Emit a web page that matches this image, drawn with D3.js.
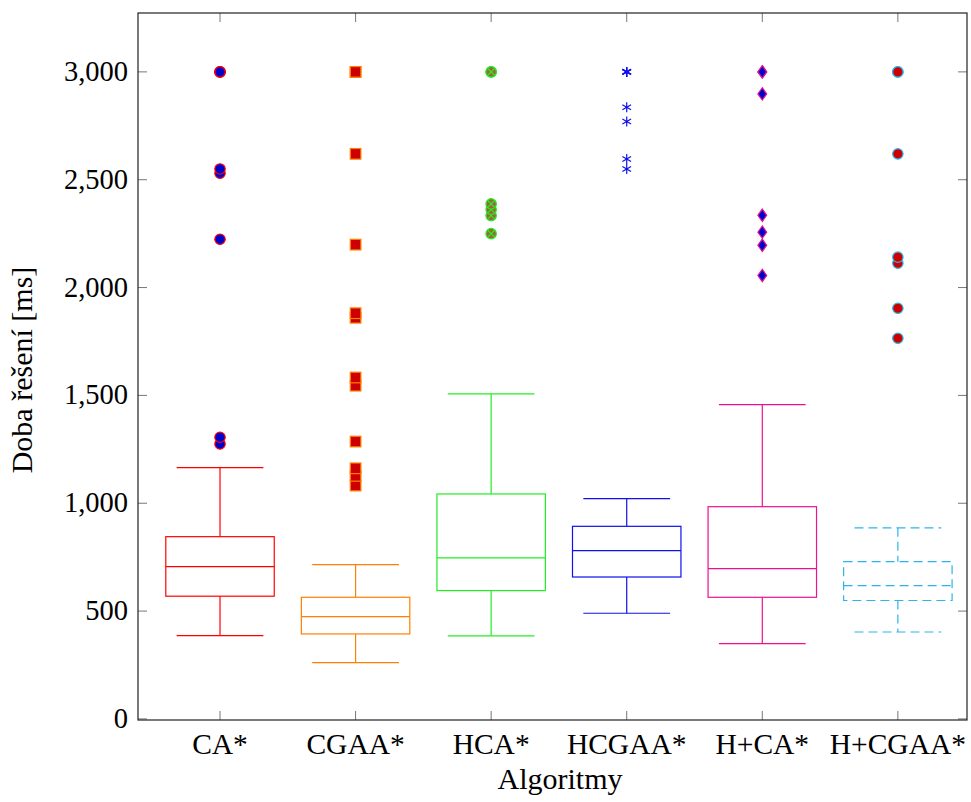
<!DOCTYPE html>
<html>
<head>
<meta charset="utf-8">
<script src="https://cdn.jsdelivr.net/npm/d3@7"></script>
<style>
  body { margin: 0; background: #fff; }
  text { font-family: "Liberation Serif", "DejaVu Serif", serif; fill: #000; }
</style>
</head>
<body>
<div id="chart"></div>
<script>
// DATA
// Algorithm names on the x axis
var algorithms = ["CA*", "CGAA*", "HCA*", "HCGAA*", "H+CA*", "H+CGAA*"];

// Box statistics per algorithm (ms)
var lowerWhiskers = [386, 261, 385, 490, 349, 403],
    lowerQuartiles = [569, 394, 595, 658, 564, 549],
    medians = [706, 474, 747, 780, 697, 618],
    upperQuartiles = [845, 564, 1043, 893, 984, 729],
    upperWhiskers = [1165, 715, 1507, 1021, 1457, 886];

// Outliers per algorithm (ms)
var outliersCA = [3000, 3000, 3000, 2550, 2530, 2224, 1306, 1275],
    outliersCGAA = [3000, 3000, 2620, 2199, 1881, 1860, 1583, 1545, 1286, 1162, 1127, 1082],
    outliersHCA = [3000, 3000, 2388, 2362, 2334, 2250],
    outliersHCGAA = [3000, 3000, 3000, 2836, 2770, 2596, 2550],
    outliersHPCA = [3000, 3000, 2898, 2335, 2257, 2196, 2056],
    outliersHPCGAA = [3000, 3000, 2620, 2141, 2113, 1904, 1765];

var outlierLists = [outliersCA, outliersCGAA, outliersHCA, outliersHCGAA, outliersHPCA, outliersHPCGAA];

// Y axis ticks
var yTicks = [0, 500, 1000, 1500, 2000, 2500, 3000];

// STYLES
var lineColors = ["#ff0000", "#ff8000", "#22ee22", "#1010ee", "#ee1090", "#2cb5ea"],
    markerFills = ["#0000cc", "#cc0000", "#a5623a", "#1010ee", "#0000cc", "#cc0000"],
    markerShapes = ["circle", "square", "otimes", "asterisk", "diamond", "circle"];

var width = 971,
    height = 802,
    plotLeft = 138,
    plotRight = 967,
    plotTop = 13,
    plotBottom = 720;

var serif = "'Liberation Serif', 'DejaVu Serif', serif";

var svg = d3.select("#chart").append("svg")
    .attr("width", width)
    .attr("height", height);

var x = d3.scaleLinear()
    .domain([0.395, 6.51])
    .range([plotLeft, plotRight]);

var y = d3.scaleLinear()
    .domain([-5, 3273])
    .range([plotBottom, plotTop]);

var unit = x(2) - x(1);

// ticks (inside, on all four sides)
var tickG = svg.append("g");
yTicks.forEach(function(t) {
    tickG.append("line")
        .attr("x1", plotLeft).attr("x2", plotLeft + 9)
        .attr("y1", y(t)).attr("y2", y(t))
        .attr("stroke", "#777").attr("stroke-width", 1);
    tickG.append("line")
        .attr("x1", plotRight).attr("x2", plotRight - 9)
        .attr("y1", y(t)).attr("y2", y(t))
        .attr("stroke", "#777").attr("stroke-width", 1);
    svg.append("text")
        .attr("x", plotLeft - 10)
        .attr("y", y(t) + 9)
        .attr("text-anchor", "end")
        .style("font-family", serif)
        .style("font-size", "28.5px")
        .text(d3.format(",")(t));
});
algorithms.forEach(function(a, i) {
    tickG.append("line")
        .attr("x1", x(i + 1)).attr("x2", x(i + 1))
        .attr("y1", plotBottom).attr("y2", plotBottom - 9)
        .attr("stroke", "#777").attr("stroke-width", 1);
    tickG.append("line")
        .attr("x1", x(i + 1)).attr("x2", x(i + 1))
        .attr("y1", plotTop).attr("y2", plotTop + 9)
        .attr("stroke", "#777").attr("stroke-width", 1);
    svg.append("text")
        .attr("x", x(i + 1))
        .attr("y", 754)
        .attr("text-anchor", "middle")
        .style("font-family", serif)
        .style("font-size", "29.5px")
        .text(a);
});

// Boxes
algorithms.forEach(function(a, i) {
    var cx = x(i + 1),
        col = lineColors[i],
        dash = i === 5 ? "9,5" : null;
    var g = svg.append("g")
        .attr("fill", "none")
        .attr("stroke", col)
        .attr("stroke-width", 1.2)
        .attr("stroke-dasharray", dash);

    // whiskers
    g.append("line")
        .attr("x1", cx).attr("x2", cx)
        .attr("y1", y(upperWhiskers[i])).attr("y2", y(upperQuartiles[i]));
    g.append("line")
        .attr("x1", cx).attr("x2", cx)
        .attr("y1", y(lowerQuartiles[i])).attr("y2", y(lowerWhiskers[i]));
    [upperWhiskers[i], lowerWhiskers[i]].forEach(function(w) {
        g.append("line")
            .attr("x1", cx - 0.32 * unit).attr("x2", cx + 0.32 * unit)
            .attr("y1", y(w)).attr("y2", y(w));
    });

    // box + median
    g.append("rect")
        .attr("x", cx - 0.4 * unit)
        .attr("width", 0.8 * unit)
        .attr("y", y(upperQuartiles[i]))
        .attr("height", y(lowerQuartiles[i]) - y(upperQuartiles[i]));
    g.append("line")
        .attr("x1", cx - 0.4 * unit).attr("x2", cx + 0.4 * unit)
        .attr("y1", y(medians[i])).attr("y2", y(medians[i]));
});

// Outlier markers
function drawMarker(g, shape, cx, cy, fill, stroke) {
    switch (shape) {
        case "circle":
            g.append("circle")
                .attr("cx", cx).attr("cy", cy).attr("r", 5.2)
                .attr("fill", fill).attr("stroke", stroke).attr("stroke-width", 1.2);
            break;
        case "square":
            g.append("rect")
                .attr("x", cx - 5.3).attr("y", cy - 5.3)
                .attr("width", 10.6).attr("height", 10.6)
                .attr("fill", fill).attr("stroke", stroke).attr("stroke-width", 1.2);
            break;
        case "otimes":
            g.append("circle")
                .attr("cx", cx).attr("cy", cy).attr("r", 5.2)
                .attr("fill", fill).attr("stroke", stroke).attr("stroke-width", 1.2);
            g.append("path")
                .attr("d", "M" + (cx - 3.6) + "," + (cy - 3.6) + "L" + (cx + 3.6) + "," + (cy + 3.6) +
                           "M" + (cx - 3.6) + "," + (cy + 3.6) + "L" + (cx + 3.6) + "," + (cy - 3.6))
                .attr("stroke", stroke).attr("stroke-width", 1.2);
            break;
        case "asterisk":
            var p = "";
            [90, 30, -30].forEach(function(deg) {
                var r = deg * Math.PI / 180,
                    dx = 5 * Math.cos(r),
                    dy = 5 * Math.sin(r);
                p += "M" + (cx - dx) + "," + (cy - dy) + "L" + (cx + dx) + "," + (cy + dy);
            });
            g.append("path")
                .attr("d", p)
                .attr("stroke", stroke).attr("stroke-width", 1.2).attr("fill", "none");
            break;
        case "diamond":
            g.append("path")
                .attr("d", "M" + cx + "," + (cy - 6.2) + "L" + (cx + 4.4) + "," + cy +
                           "L" + cx + "," + (cy + 6.2) + "L" + (cx - 4.4) + "," + cy + "Z")
                .attr("fill", fill).attr("stroke", stroke).attr("stroke-width", 1.2);
            break;
    }
}

outlierLists.forEach(function(list, i) {
    var g = svg.append("g");
    list.slice().sort(d3.ascending).forEach(function(v) {
        drawMarker(g, markerShapes[i], x(i + 1), y(v),
            markerFills[i], markerShapes[i] === "asterisk" ? markerFills[i] : lineColors[i]);
    });
});

// Frame
svg.append("rect")
    .attr("x", plotLeft).attr("y", plotTop)
    .attr("width", plotRight - plotLeft).attr("height", plotBottom - plotTop)
    .attr("fill", "none").attr("stroke", "#222").attr("stroke-width", 1.2);

// Axis titles
svg.append("text")
    .attr("x", 560)
    .attr("y", 789)
    .attr("text-anchor", "middle")
    .style("font-family", serif)
    .style("font-size", "30px")
    .text("Algoritmy");

svg.append("text")
    .attr("transform", "translate(32,370) rotate(-90)")
    .attr("text-anchor", "middle")
    .style("font-family", serif)
    .style("font-size", "30px")
    .text("Doba řešení [ms]");
</script>
</body>
</html>
